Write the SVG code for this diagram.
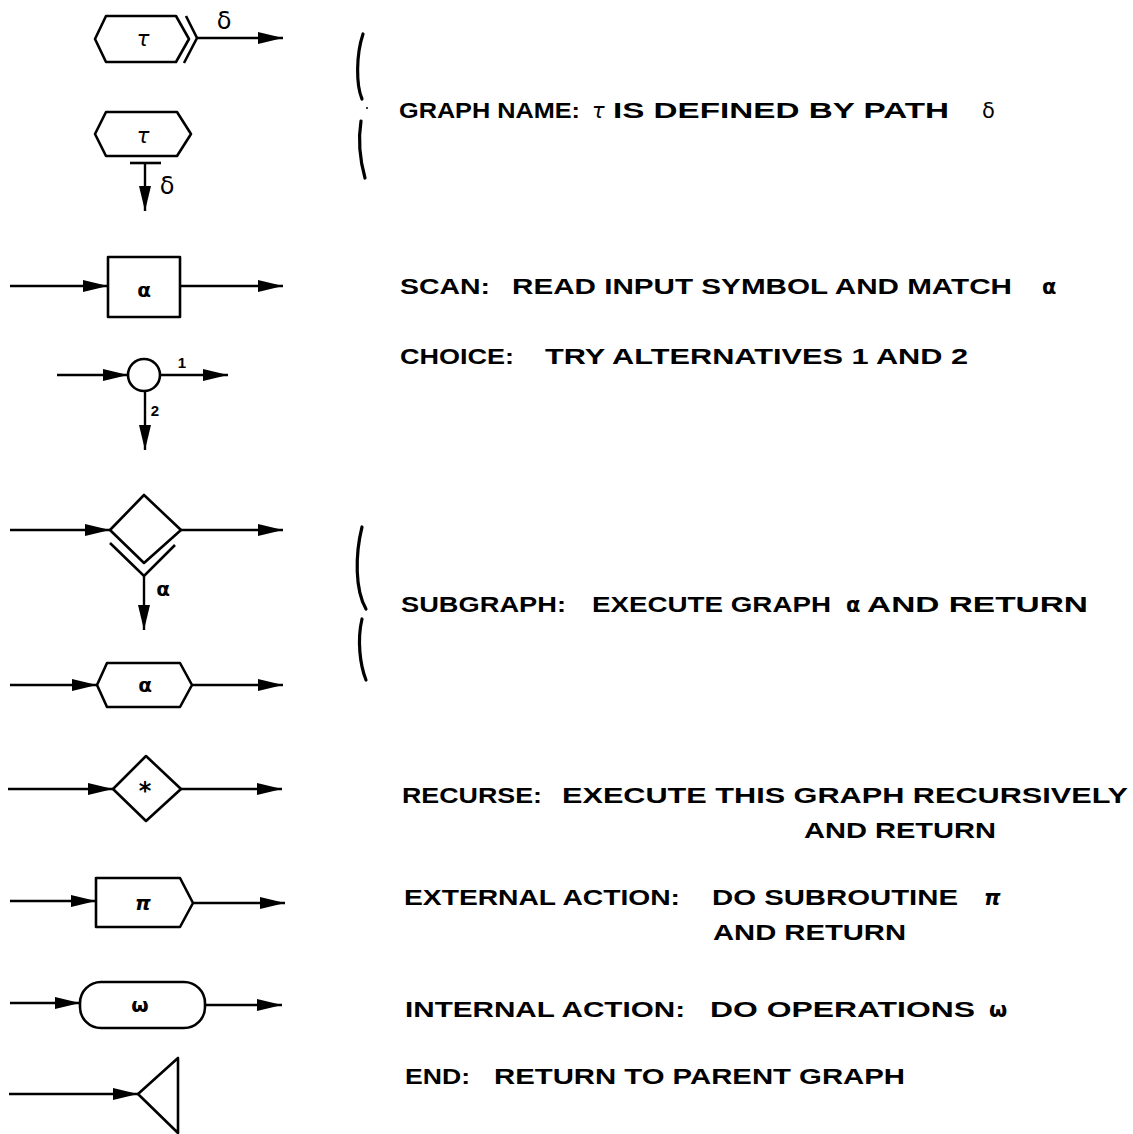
<svg xmlns="http://www.w3.org/2000/svg" width="1133" height="1134" viewBox="0 0 1133 1134">
<defs>
<marker id="ah" markerUnits="userSpaceOnUse" markerWidth="26" markerHeight="14" refX="25" refY="6.5" orient="auto">
<path d="M0,0.5 L25,6.5 L0,12.5 z" fill="#000"/>
</marker>
<style>
.n{fill:#fff;stroke:#000;stroke-width:2.6;stroke-linejoin:round}
.l{fill:none;stroke:#000;stroke-width:2.6}
.c{fill:none;stroke:#000;stroke-width:2.4;marker-end:url(#ah)}
.t{font-family:"Liberation Sans",Arial,sans-serif;font-weight:bold;font-size:22px;fill:#000}
.k{font-family:"DejaVu Sans","Liberation Sans",sans-serif;font-size:21px;fill:#000}
.g{font-family:"DejaVu Sans","Liberation Sans",sans-serif;fill:#000;text-anchor:middle;dominant-baseline:central;font-weight:bold}
.r{font-weight:normal}
.s{font-family:"Liberation Sans",Arial,sans-serif;fill:#000;font-size:15px;font-weight:bold;text-anchor:middle;dominant-baseline:central}
.b{fill:none;stroke:#000;stroke-width:3.2;stroke-linecap:round}
</style>
</defs>
<rect width="1133" height="1134" fill="#fff"/>

<g id="connectors">
<path class="c" d="M197,38 H283"/>
<path class="c" d="M145,163 V211"/>
<path class="c" d="M10,286 H108"/>
<path class="c" d="M180,286 H283"/>
<path class="c" d="M57,375 H128"/>
<path class="c" d="M160,375 H228"/>
<path class="c" d="M145,391 V450"/>
<path class="c" d="M10,530 H110"/>
<path class="c" d="M181,530 H283"/>
<path class="c" d="M144,576 V630"/>
<path class="c" d="M10,685 H97"/>
<path class="c" d="M192,685 H283"/>
<path class="c" d="M8,789 H113"/>
<path class="c" d="M181,789 H282"/>
<path class="c" d="M10,901 H96"/>
<path class="c" d="M193,903 H285"/>
<path class="c" d="M10,1003 H80"/>
<path class="c" d="M205,1005 H282"/>
<path class="c" d="M9,1094 H138"/>
</g>

<g id="graph-name-h">
<polygon class="n" points="95,39 106,16 176,16 189,39 176,62 106,62"/>
<polyline class="l" points="186,16 197,38 184,63"/>
<text class="g r" x="143" y="39" font-size="21" font-style="italic">τ</text>
<text class="g r" x="224" y="21" font-size="24">δ</text>
</g>

<g id="graph-name-v">
<polygon class="n" points="95,134 106,112 177,112 191,134 177,156 106,156"/>
<line class="l" x1="130" y1="163" x2="161" y2="163"/>
<text class="g r" x="143" y="136" font-size="21" font-style="italic">τ</text>
<text class="g r" x="167" y="186" font-size="24">δ</text>
</g>

<g id="scan">
<rect class="n" x="108" y="257" width="72" height="60"/>
<text class="g" x="144" y="290" font-size="20">α</text>
</g>

<g id="choice">
<circle class="n" cx="144" cy="375" r="16"/>
<text class="s" x="182" y="362">1</text>
<text class="s" x="155" y="410">2</text>
</g>

<g id="subgraph">
<polygon class="n" points="110,530 144,495 181,530 144,563"/>
<polyline class="l" points="110,543 144,576 175,545"/>
<text class="g" x="163" y="589" font-size="20">α</text>
</g>

<g id="subgraph-hex">
<polygon class="n" points="97,685 107,663 180,663 192,685 180,707 107,707"/>
<text class="g" x="145" y="685" font-size="20">α</text>
</g>

<g id="recurse">
<polygon class="n" points="113,789 146,756 181,789 146,821"/>
<text class="g" x="145" y="791" font-size="24">*</text>
</g>

<g id="external">
<polygon class="n" points="96,878 180,878 193,903 180,927 96,927"/>
<text class="g" x="143" y="903" font-size="20" font-style="italic">π</text>
</g>

<g id="internal">
<rect class="n" x="80" y="982" width="125" height="46" rx="21" ry="21"/>
<text class="g" x="140" y="1005" font-size="20">ω</text>
</g>

<g id="end">
<polygon class="n" points="138,1094 178,1058 178,1133"/>
</g>

<g id="brackets">
<path class="b" d="M363,34 C356,55 356,85 362,99"/>
<path class="b" d="M361,121 C358,140 360,160 365,178"/>
<circle cx="367" cy="108" r="1" fill="#000"/>
<path class="b" d="M362,527 C355,555 355,590 366,609"/>
<path class="b" d="M362,619 C357,640 360,665 366,680"/>
</g>

<g id="texts">
<text class="t" x="399" y="118" textLength="181" lengthAdjust="spacingAndGlyphs">GRAPH NAME:</text>
<text class="k" x="592" y="118" font-style="italic">τ</text>
<text class="t" x="613" y="118" textLength="336" lengthAdjust="spacingAndGlyphs">IS DEFINED BY PATH</text>
<text class="k" x="982" y="118" font-size="23">δ</text>

<text class="t" x="400" y="294" textLength="90" lengthAdjust="spacingAndGlyphs">SCAN:</text>
<text class="t" x="512" y="294" textLength="500" lengthAdjust="spacingAndGlyphs">READ INPUT SYMBOL AND MATCH</text>
<text class="k" x="1042" y="294" font-weight="bold">α</text>

<text class="t" x="400" y="364" textLength="114" lengthAdjust="spacingAndGlyphs">CHOICE:</text>
<text class="t" x="545" y="364" textLength="423" lengthAdjust="spacingAndGlyphs">TRY ALTERNATIVES 1 AND 2</text>

<text class="t" x="401" y="612" textLength="165" lengthAdjust="spacingAndGlyphs">SUBGRAPH:</text>
<text class="t" x="592" y="612" textLength="239" lengthAdjust="spacingAndGlyphs">EXECUTE GRAPH</text>
<text class="k" x="846" y="612" font-weight="bold">α</text>
<text class="t" x="867" y="612" textLength="221" lengthAdjust="spacingAndGlyphs">AND RETURN</text>

<text class="t" x="402" y="803" textLength="140" lengthAdjust="spacingAndGlyphs">RECURSE:</text>
<text class="t" x="562" y="803" textLength="566" lengthAdjust="spacingAndGlyphs">EXECUTE THIS GRAPH RECURSIVELY</text>
<text class="t" x="804" y="838" textLength="192" lengthAdjust="spacingAndGlyphs">AND RETURN</text>

<text class="t" x="404" y="905" textLength="276" lengthAdjust="spacingAndGlyphs">EXTERNAL ACTION:</text>
<text class="t" x="712" y="905" textLength="246" lengthAdjust="spacingAndGlyphs">DO SUBROUTINE</text>
<text class="k" x="984" y="905" font-style="italic" font-weight="bold">π</text>
<text class="t" x="713" y="940" textLength="193" lengthAdjust="spacingAndGlyphs">AND RETURN</text>

<text class="t" x="405" y="1017" textLength="280" lengthAdjust="spacingAndGlyphs">INTERNAL ACTION:</text>
<text class="t" x="710" y="1017" textLength="265" lengthAdjust="spacingAndGlyphs">DO OPERATIONS</text>
<text class="k" x="989" y="1017" font-weight="bold">ω</text>

<text class="t" x="405" y="1084" textLength="65" lengthAdjust="spacingAndGlyphs">END:</text>
<text class="t" x="494" y="1084" textLength="411" lengthAdjust="spacingAndGlyphs">RETURN TO PARENT GRAPH</text>
</g>
</svg>
